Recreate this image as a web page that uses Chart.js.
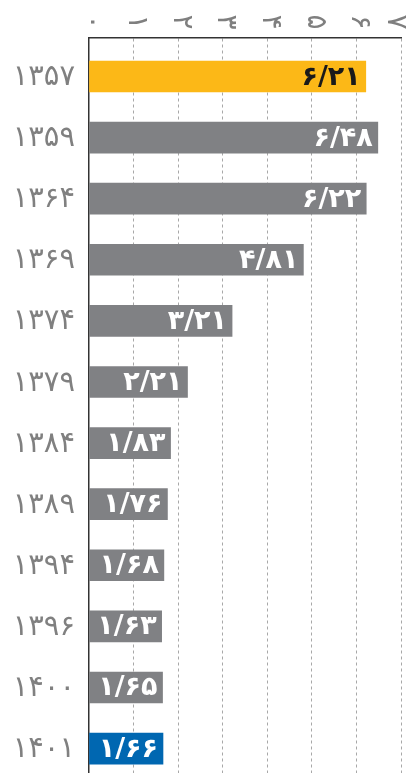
<!DOCTYPE html>
<html>
<head>
<meta charset="utf-8">
<script src="https://cdn.jsdelivr.net/npm/chart.js@4"></script>
<style>
  body { margin: 0; background: #fff; overflow: hidden; }
  #wrap { width: 416px; height: 773px; }
</style>
</head>
<body>
<div id="wrap"><canvas id="rateChart"></canvas></div>
<script>
const years = ["۱۳۵۷", "۱۳۵۹", "۱۳۶۴", "۱۳۶۹", "۱۳۷۴", "۱۳۷۹", "۱۳۸۴", "۱۳۸۹", "۱۳۹۴", "۱۳۹۶", "۱۴۰۰", "۱۴۰۱"];
const values = [6.21, 6.48, 6.22, 4.81, 3.21, 2.21, 1.83, 1.76, 1.68, 1.63, 1.65, 1.66];
const xTicks = ["۰", "۱", "۲", "۳", "۴", "۵", "۶", "۷"];

const barColors = values.map((v, i) => i === 0 ? "#fcb817" : (i === values.length - 1 ? "#0067b1" : "#808184"));
const labelColors = values.map((v, i) => i === 0 ? "#1a1a1a" : "#ffffff");

const faDigits = "۰۱۲۳۴۵۶۷۸۹";
function toFa(s) {
  return String(s).replace(/[0-9]/g, d => faDigits[d]).replace(".", "/");
}

// value text at the end of each bar + year labels on the left
const barText = {
  id: "barText",
  afterDatasetsDraw(chart) {
    const ctx = chart.ctx;
    const meta = chart.getDatasetMeta(0);
    const ys = chart.scales.y;
    ctx.save();
    ctx.textBaseline = "middle";
    meta.data.forEach((bar, i) => {
      ctx.font = "bold 27px 'DejaVu Sans'";
      ctx.textAlign = "right";
      ctx.fillStyle = labelColors[i];
      ctx.fillText(toFa(values[i].toFixed(2)), bar.x - 5, bar.y + 1);

      ctx.font = "29px 'DejaVu Sans'";
      ctx.fillStyle = "#808080";
      ctx.fillText(years[i], ys.right - 14, ys.getPixelForValue(i) + 1);
    });
    ctx.restore();
  }
};

// top axis labels, turned a quarter clockwise
const topTicks = {
  id: "topTicks",
  afterDraw(chart) {
    const ctx = chart.ctx;
    const sc = chart.scales.x;
    ctx.save();
    ctx.font = "28px 'DejaVu Sans'";
    ctx.fillStyle = "#7f7f7f";
    ctx.textAlign = "center";
    ctx.textBaseline = "middle";
    sc.ticks.forEach(t => {
      // keep the last label inside the canvas
      const x = Math.min(sc.getPixelForValue(t.value) + 3, chart.width - 21);
      ctx.save();
      ctx.translate(x, 22);
      ctx.rotate(Math.PI / 2);
      ctx.fillText(xTicks[t.value], 0, 0);
      ctx.restore();
    });
    ctx.restore();
  }
};

new Chart(document.getElementById("rateChart"), {
  type: "bar",
  data: {
    datasets: [{
      data: values.map((v, i) => ({ x: v, y: i })),
      backgroundColor: barColors,
      barThickness: 31,
      borderWidth: 0
    }]
  },
  options: {
    indexAxis: "y",
    responsive: true,
    maintainAspectRatio: false,
    animation: false,
    layout: { padding: { right: 15 } },
    plugins: { legend: { display: false }, tooltip: { enabled: false } },
    scales: {
      x: {
        type: "linear",
        position: "top",
        min: 0,
        max: 7,
        ticks: { display: false, stepSize: 1 },
        grid: {
          drawTicks: false,
          lineWidth: 1,
          color: ctx => ctx.tick && ctx.tick.value === 0 ? "rgba(0,0,0,0)" : "#a8a8a8"
        },
        border: { display: true, color: "#333333", width: 1.5, dash: [3, 3] },
        afterFit: s => { s.height = 38; }
      },
      y: {
        type: "linear",
        reverse: true,
        offset: false,
        min: -0.63,
        max: 11.4,
        ticks: { display: false, stepSize: 1 },
        grid: { display: false, drawTicks: false, offset: false },
        border: { display: true, color: "#333333", width: 1.5 },
        afterFit: s => { s.width = 89; }
      }
    }
  },
  plugins: [barText, topTicks]
});
</script>
</body>
</html>
